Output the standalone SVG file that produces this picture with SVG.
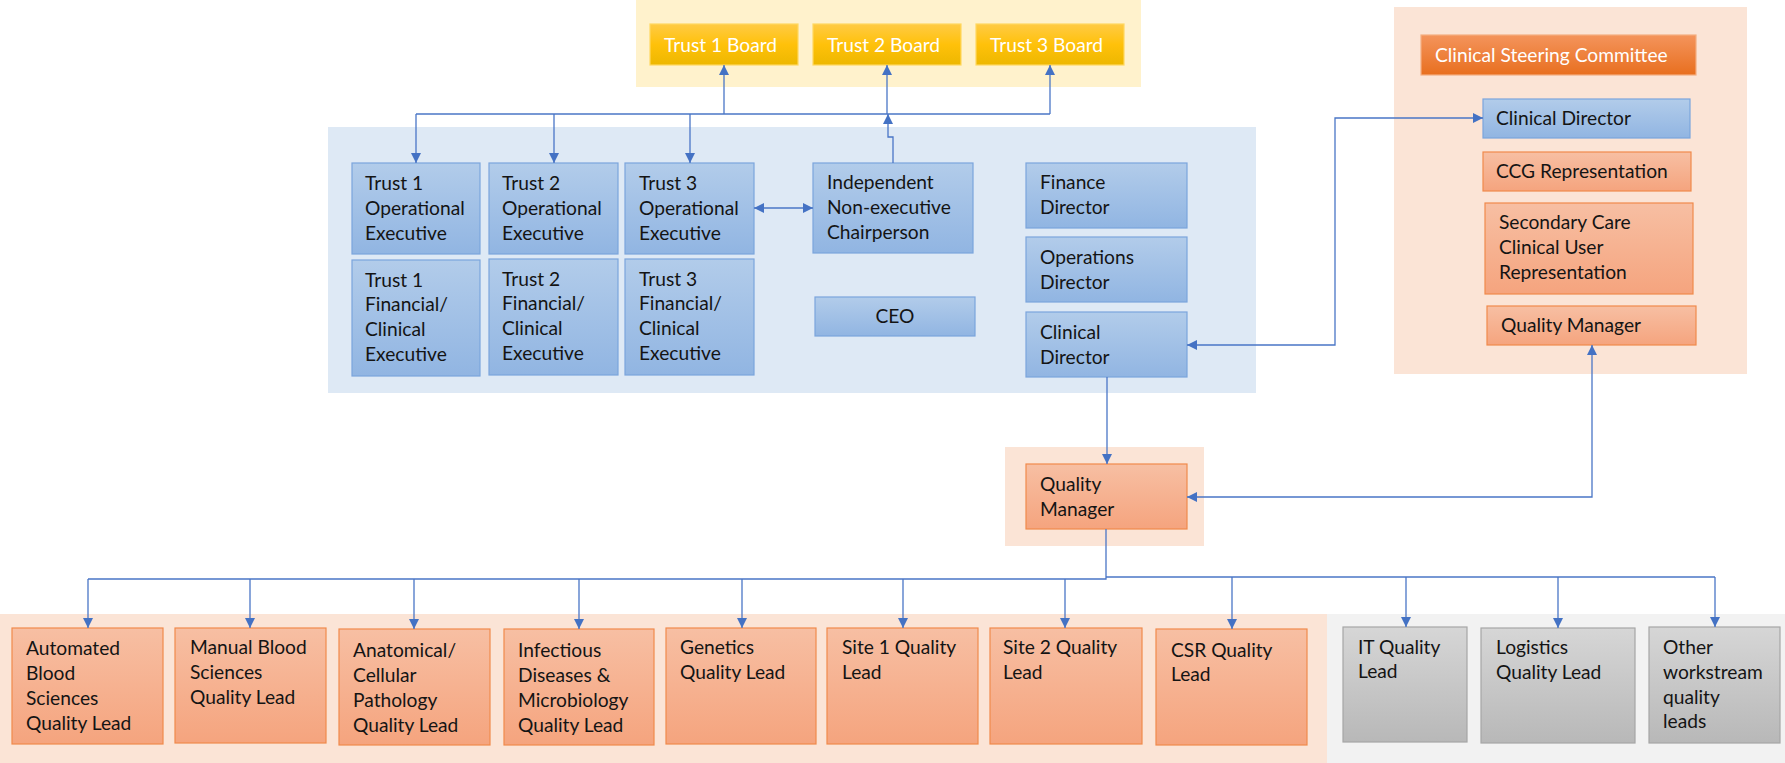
<svg xmlns="http://www.w3.org/2000/svg" width="1785" height="763" viewBox="0 0 1785 763">
  <defs>
    <linearGradient id="gBlue" x1="0" y1="0" x2="0" y2="1">
      <stop offset="0" stop-color="#B2CCEA"/>
      <stop offset="1" stop-color="#91B5E2"/>
    </linearGradient>
    <linearGradient id="gOrange" x1="0" y1="0" x2="0" y2="1">
      <stop offset="0" stop-color="#F7BFA3"/>
      <stop offset="1" stop-color="#F5A47E"/>
    </linearGradient>
    <linearGradient id="gGold" x1="0" y1="0" x2="0" y2="1">
      <stop offset="0" stop-color="#FFCB45"/>
      <stop offset="0.5" stop-color="#FFC10A"/>
      <stop offset="1" stop-color="#EDB700"/>
    </linearGradient>
    <linearGradient id="gSteer" x1="0" y1="0" x2="0" y2="1">
      <stop offset="0" stop-color="#F4945C"/>
      <stop offset="1" stop-color="#E86F1F"/>
    </linearGradient>
    <linearGradient id="gGray" x1="0" y1="0" x2="0" y2="1">
      <stop offset="0" stop-color="#D6D6D6"/>
      <stop offset="1" stop-color="#B8B8B8"/>
    </linearGradient>
    <marker id="arrow" viewBox="0 0 10 10" refX="10" refY="5" markerWidth="10" markerHeight="10" markerUnits="userSpaceOnUse" orient="auto-start-reverse">
      <path d="M0,0 L10,5 L0,10 z" fill="#4472C4"/>
    </marker>
  </defs>
  <style>
    text { font-family: Lato, "Open Sans", "Liberation Sans", sans-serif; font-size: 19.2px; fill: #141414; }
    .light { fill: #FFFFFF; }
    .blue { fill: url(#gBlue); stroke: #7BA5DC; stroke-width: 1.2; }
    .orange { fill: url(#gOrange); stroke: #F08A4B; stroke-width: 1.2; }
    .gold { fill: url(#gGold); stroke: #FFD860; stroke-width: 1.2; }
    .steer { fill: url(#gSteer); stroke: #F3AE80; stroke-width: 1.2; }
    .gray { fill: url(#gGray); stroke: #A6A6A6; stroke-width: 1.2; }
    .conn { fill: none; stroke: #4A76C6; stroke-width: 1.3; }
  </style>

  <!-- background panels -->
  <g id="panels">
    <rect x="636" y="0" width="505" height="87" fill="#FFF2CC"/>
    <rect x="328" y="127" width="928" height="266" fill="#DEE9F5"/>
    <rect x="1394" y="7" width="353" height="367" fill="#FBE4D6"/>
    <rect x="1005" y="447" width="199" height="99" fill="#FBE4D6"/>
    <rect x="0" y="614" width="1327" height="149" fill="#FBE4D6"/>
    <rect x="1327" y="614" width="458" height="149" fill="#F2F2F2"/>
  </g>

  <!-- boards -->
  <g id="trust1-board"><rect class="gold" x="650" y="24" width="148" height="41"/><text class="light" x="664" y="52">Trust 1 Board</text></g>
  <g id="trust2-board"><rect class="gold" x="813" y="24" width="148" height="41"/><text class="light" x="827" y="52">Trust 2 Board</text></g>
  <g id="trust3-board"><rect class="gold" x="976" y="24" width="148" height="41"/><text class="light" x="990" y="52">Trust 3 Board</text></g>

  <!-- executive group -->
  <g id="trust1-op"><rect class="blue" x="352" y="163" width="128" height="91"/>
    <text x="365" y="190">Trust 1</text><text x="365" y="215">Operational</text><text x="365" y="240">Executive</text></g>
  <g id="trust2-op"><rect class="blue" x="489" y="163" width="129" height="91"/>
    <text x="502" y="190">Trust 2</text><text x="502" y="215">Operational</text><text x="502" y="240">Executive</text></g>
  <g id="trust3-op"><rect class="blue" x="625" y="163" width="129" height="91"/>
    <text x="639" y="190">Trust 3</text><text x="639" y="215">Operational</text><text x="639" y="240">Executive</text></g>
  <g id="trust1-fin"><rect class="blue" x="352" y="260" width="128" height="116"/>
    <text x="365" y="287">Trust 1</text><text x="365" y="311">Financial/</text><text x="365" y="336">Clinical</text><text x="365" y="361">Executive</text></g>
  <g id="trust2-fin"><rect class="blue" x="489" y="259" width="129" height="116"/>
    <text x="502" y="286">Trust 2</text><text x="502" y="310">Financial/</text><text x="502" y="335">Clinical</text><text x="502" y="360">Executive</text></g>
  <g id="trust3-fin"><rect class="blue" x="625" y="259" width="129" height="116"/>
    <text x="639" y="286">Trust 3</text><text x="639" y="310">Financial/</text><text x="639" y="335">Clinical</text><text x="639" y="360">Executive</text></g>
  <g id="chair"><rect class="blue" x="813" y="163" width="160" height="90"/>
    <text x="827" y="189">Independent</text><text x="827" y="214">Non-executive</text><text x="827" y="239">Chairperson</text></g>
  <g id="ceo"><rect class="blue" x="815" y="297" width="160" height="39"/>
    <text x="895" y="323" text-anchor="middle">CEO</text></g>
  <g id="finance-director"><rect class="blue" x="1026" y="163" width="161" height="65"/>
    <text x="1040" y="189">Finance</text><text x="1040" y="214">Director</text></g>
  <g id="operations-director"><rect class="blue" x="1026" y="237" width="161" height="65"/>
    <text x="1040" y="264">Operations</text><text x="1040" y="289">Director</text></g>
  <g id="clinical-director"><rect class="blue" x="1026" y="312" width="161" height="65"/>
    <text x="1040" y="339">Clinical</text><text x="1040" y="364">Director</text></g>

  <!-- steering committee -->
  <g id="steering-committee"><rect class="steer" x="1421" y="35" width="275" height="40"/>
    <text class="light" x="1435" y="62">Clinical Steering Committee</text></g>
  <g id="steering-clinical-director"><rect class="blue" x="1483" y="99" width="207" height="39"/>
    <text x="1496" y="125">Clinical Director</text></g>
  <g id="ccg"><rect class="orange" x="1483" y="152" width="208" height="39"/>
    <text x="1496" y="178">CCG Representation</text></g>
  <g id="secondary-care"><rect class="orange" x="1485" y="203" width="208" height="91"/>
    <text x="1499" y="229">Secondary Care</text><text x="1499" y="254">Clinical User</text><text x="1499" y="279">Representation</text></g>
  <g id="steering-quality-manager"><rect class="orange" x="1487" y="306" width="209" height="39"/>
    <text x="1501" y="332">Quality Manager</text></g>

  <!-- quality manager -->
  <g id="quality-manager"><rect class="orange" x="1026" y="464" width="161" height="65"/>
    <text x="1040" y="491">Quality</text><text x="1040" y="516">Manager</text></g>

  <!-- quality leads -->
  <g id="automated"><rect class="orange" x="12" y="628" width="151" height="116"/>
    <text x="26" y="655">Automated</text><text x="26" y="680">Blood</text><text x="26" y="705">Sciences</text><text x="26" y="730">Quality Lead</text></g>
  <g id="manual"><rect class="orange" x="175" y="628" width="151" height="115"/>
    <text x="190" y="654">Manual Blood</text><text x="190" y="679">Sciences</text><text x="190" y="704">Quality Lead</text></g>
  <g id="anatomical"><rect class="orange" x="339" y="629" width="151" height="116"/>
    <text x="353" y="657">Anatomical/</text><text x="353" y="682">Cellular</text><text x="353" y="707">Pathology</text><text x="353" y="732">Quality Lead</text></g>
  <g id="infectious"><rect class="orange" x="504" y="629" width="150" height="116"/>
    <text x="518" y="657">Infectious</text><text x="518" y="682">Diseases &amp;</text><text x="518" y="707">Microbiology</text><text x="518" y="732">Quality Lead</text></g>
  <g id="genetics"><rect class="orange" x="666" y="628" width="150" height="116"/>
    <text x="680" y="654">Genetics</text><text x="680" y="679">Quality Lead</text></g>
  <g id="site1"><rect class="orange" x="827" y="628" width="151" height="116"/>
    <text x="842" y="654">Site 1 Quality</text><text x="842" y="679">Lead</text></g>
  <g id="site2"><rect class="orange" x="990" y="628" width="152" height="116"/>
    <text x="1003" y="654">Site 2 Quality</text><text x="1003" y="679">Lead</text></g>
  <g id="csr"><rect class="orange" x="1156" y="629" width="151" height="116"/>
    <text x="1171" y="657">CSR Quality</text><text x="1171" y="681">Lead</text></g>
  <g id="it"><rect class="gray" x="1343" y="627" width="124" height="115"/>
    <text x="1358" y="654">IT Quality</text><text x="1358" y="678">Lead</text></g>
  <g id="logistics"><rect class="gray" x="1481" y="628" width="154" height="115"/>
    <text x="1496" y="654">Logistics</text><text x="1496" y="679">Quality Lead</text></g>
  <g id="other"><rect class="gray" x="1649" y="627" width="131" height="116"/>
    <text x="1663" y="654">Other</text><text x="1663" y="679">workstream</text><text x="1663" y="704">quality</text><text x="1663" y="728">leads</text></g>

  <!-- connectors -->
  <g id="connectors" class="conn">
    <path d="M416,114 H1050"/>
    <path d="M416,114 V163" marker-end="url(#arrow)"/>
    <path d="M554,114 V163" marker-end="url(#arrow)"/>
    <path d="M690,114 V163" marker-end="url(#arrow)"/>
    <path d="M724,114 V65" marker-end="url(#arrow)"/>
    <path d="M887,114 V65" marker-end="url(#arrow)"/>
    <path d="M1050,114 V65" marker-end="url(#arrow)"/>
    <path d="M893,163 V137 H888 V114" marker-end="url(#arrow)"/>
    <path d="M754,208 H813" marker-start="url(#arrow)" marker-end="url(#arrow)"/>
    <path d="M1187,345 H1335 V118 H1483" marker-start="url(#arrow)" marker-end="url(#arrow)"/>
    <path d="M1107,377 V464" marker-end="url(#arrow)"/>
    <path d="M1187,497 H1592 V345" marker-start="url(#arrow)" marker-end="url(#arrow)"/>
    <path d="M1106,529 V579 H88"/>
    <path d="M1106,577 H1715"/>
    <path d="M88,579 V628" marker-end="url(#arrow)"/>
    <path d="M250,579 V628" marker-end="url(#arrow)"/>
    <path d="M414,579 V629" marker-end="url(#arrow)"/>
    <path d="M579,579 V629" marker-end="url(#arrow)"/>
    <path d="M742,579 V628" marker-end="url(#arrow)"/>
    <path d="M903,579 V628" marker-end="url(#arrow)"/>
    <path d="M1065,579 V628" marker-end="url(#arrow)"/>
    <path d="M1232,577 V629" marker-end="url(#arrow)"/>
    <path d="M1406,577 V627" marker-end="url(#arrow)"/>
    <path d="M1558,577 V628" marker-end="url(#arrow)"/>
    <path d="M1715,577 V627" marker-end="url(#arrow)"/>
  </g>
</svg>
